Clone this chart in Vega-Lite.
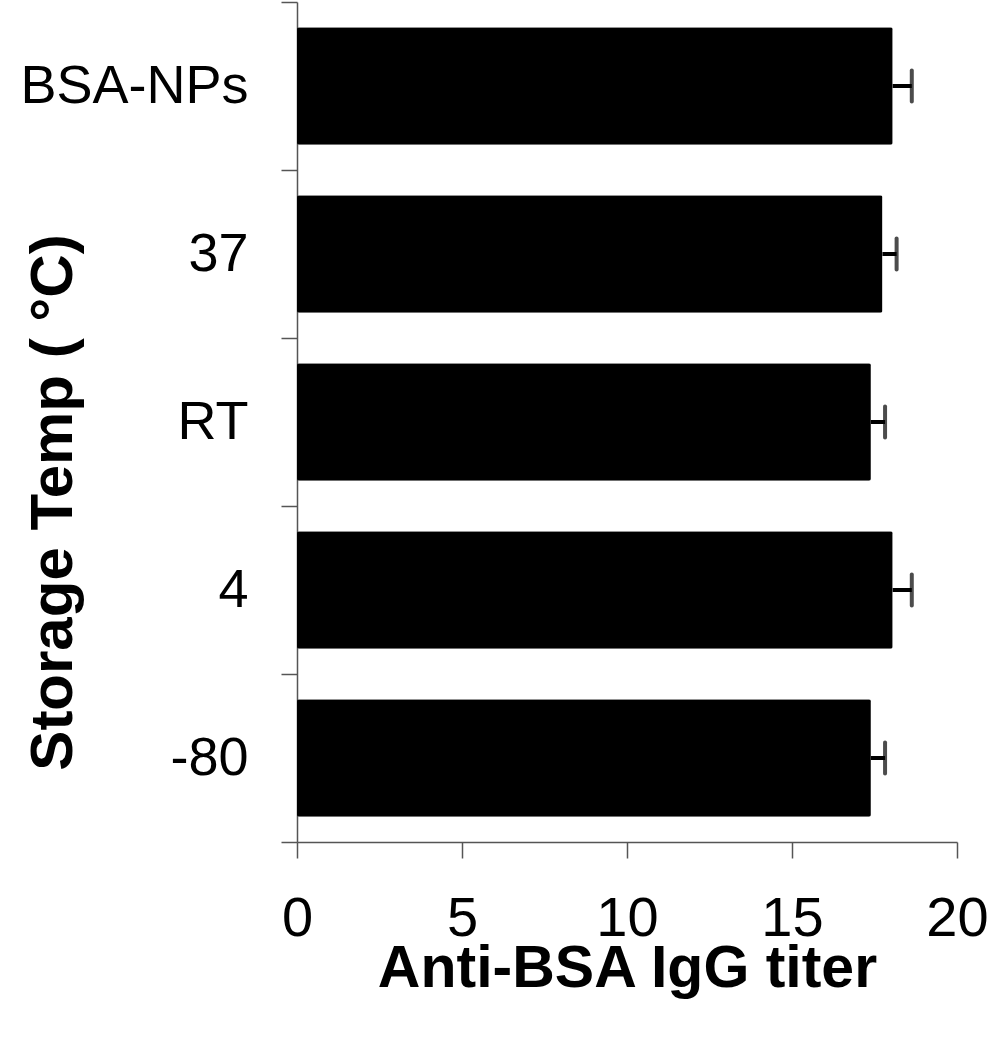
{
  "$schema": "https://vega.github.io/schema/vega-lite/v6.json",
  "autosize": "none",
  "width": 660,
  "height": 840,
  "padding": {"left": 297, "top": 2, "right": 50, "bottom": 208},
  "background": "white",
  "config": {
    "view": {"stroke": null},
    "font": "Liberation Sans"
  },
  "data": {
    "values": [
      {"temp": "BSA-NPs", "titer": 18.05, "upper": 18.63},
      {"temp": "37", "titer": 17.74, "upper": 18.17},
      {"temp": "RT", "titer": 17.39, "upper": 17.82},
      {"temp": "4", "titer": 18.05, "upper": 18.63},
      {"temp": "-80", "titer": 17.39, "upper": 17.82}
    ]
  },
  "encoding": {
    "y": {
      "field": "temp",
      "type": "nominal",
      "sort": null,
      "scale": {"paddingInner": 0, "paddingOuter": 0},
      "axis": {
        "title": "Storage Temp ( °C)",
        "titleFont": "Liberation Sans",
        "titleFontSize": 60,
        "titleFontWeight": "bold",
        "titleColor": "black",
        "titleAngle": -90,
        "titleAlign": "center",
        "titleBaseline": "alphabetic",
        "titleX": -226,
        "titleY": 500,
        "labelFont": "Liberation Sans",
        "labelFontSize": 54,
        "labelColor": "black",
        "labelPadding": 33,
        "labelLimit": 500,
        "labelBaseline": "middle",
        "labelAlign": "right",
        "tickBand": "extent",
        "tickSize": 16,
        "tickColor": "#555",
        "tickWidth": 1.5,
        "domainColor": "#555",
        "domainWidth": 1.5,
        "grid": false
      }
    }
  },
  "layer": [
    {
      "mark": {"type": "bar", "color": "black", "cornerRadius": 2, "height": {"band": 0.7}},
      "encoding": {
        "x": {
          "field": "titer",
          "type": "quantitative",
          "scale": {"domain": [0, 20], "nice": false},
          "axis": {
            "title": "Anti-BSA IgG titer",
            "titleFont": "Liberation Sans",
            "titleFontSize": 59,
            "titleFontWeight": "bold",
            "titleColor": "black",
            "titleBaseline": "alphabetic",
            "titleY": 144,
            "values": [0, 5, 10, 15, 20],
            "labelFont": "Liberation Sans",
            "labelFontSize": 56,
            "labelColor": "black",
            "labelBaseline": "alphabetic",
            "labelPadding": 77,
            "labelFlush": false,
            "tickSize": 16,
            "tickColor": "#555",
            "tickWidth": 1.5,
            "domainColor": "#555",
            "domainWidth": 1.5,
            "grid": false
          }
        }
      }
    },
    {
      "mark": {"type": "rule", "color": "black", "strokeWidth": 4},
      "encoding": {
        "x": {"field": "titer", "type": "quantitative"},
        "x2": {"field": "upper"}
      }
    },
    {
      "mark": {"type": "tick", "color": "black", "size": 35, "thickness": 4, "orient": "vertical", "cornerRadius": 2},
      "encoding": {
        "x": {"field": "upper", "type": "quantitative"}
      }
    }
  ]
}
